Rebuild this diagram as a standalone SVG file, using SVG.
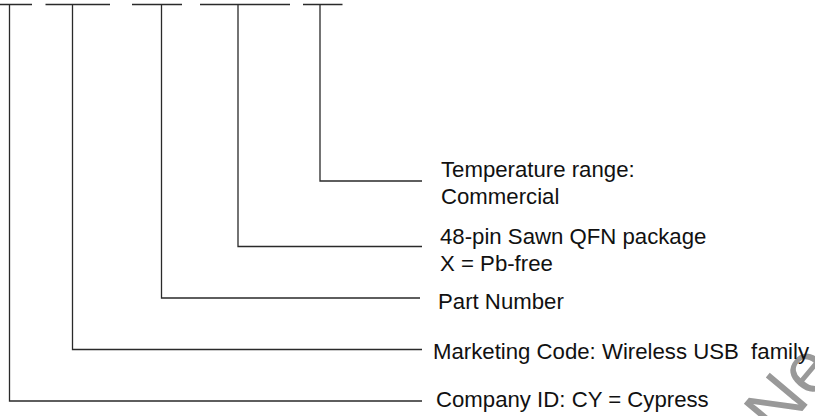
<svg xmlns="http://www.w3.org/2000/svg" width="815" height="416" viewBox="0 0 815 416">
<style>
.ln{fill:none;stroke:#2a2a2a;stroke-width:1.3}
.lb{font-family:"Liberation Sans",Arial,sans-serif;font-size:22.2px;fill:#111;white-space:pre}
.wm{font-family:"Liberation Sans",Arial,sans-serif;font-size:72px;fill:#999}
</style>
<rect width="815" height="416" fill="#fff"/>
<g id="watermark">
<text class="wm" transform="translate(778,440) rotate(-50)">Ne</text>
</g>
<g id="connectors">
<path class="ln" d="M0,4.5H32 M9.5,4.5V401H422"/>
<path class="ln" d="M45.5,4.5H110 M72.5,4.5V349.5H422"/>
<path class="ln" d="M132,4.5H182 M161.5,4.5V298H420"/>
<path class="ln" d="M200,4.5H290 M238,4.5V246.5H422"/>
<path class="ln" d="M303,4.5H342.5 M320,4.5V181H422"/>
</g>
<g id="temp"><text class="lb" x="441" y="177">Temperature range:</text><text class="lb" x="441" y="204">Commercial</text></g>
<g id="package"><text class="lb" x="440" y="243.5">48-pin Sawn QFN package</text><text class="lb" x="440" y="271">X = Pb-free</text></g>
<g id="part"><text class="lb" x="438" y="309">Part Number</text></g>
<g id="marketing"><text class="lb" x="433" y="359">Marketing Code: Wireless USB  family</text></g>
<g id="company"><text class="lb" x="436" y="407">Company ID: CY = Cypress</text></g>
</svg>
